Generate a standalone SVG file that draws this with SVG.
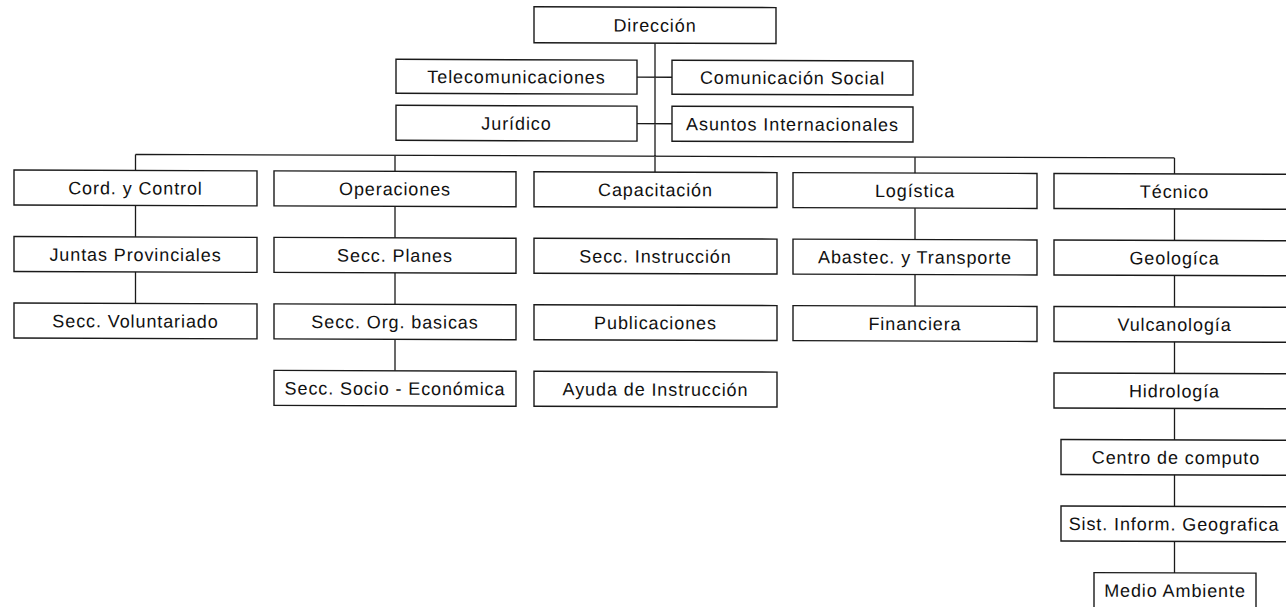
<svg xmlns="http://www.w3.org/2000/svg" width="1286" height="607" viewBox="0 0 1286 607">
<style>
.bx{fill:#fff;stroke:#1a1a1a;stroke-width:1.4}
.ln{fill:none;stroke:#1a1a1a;stroke-width:1.3}
text{font-family:"Liberation Sans",Arial,sans-serif;font-size:18px;letter-spacing:0.9px;fill:#111;text-anchor:middle}
</style>
<rect width="1286" height="607" fill="#fff"/>
<g transform="skewY(0.19)">
<g id="connectors">
<path class="ln" d="M655,41V170 M637,75H672 M637,121.5H672 M135.5,154H1174.5 M135.5,154V303 M395,154V369.5 M915,154V303 M1174.5,154V569"/>
</g>
<g id="n-direccion"><rect class="bx" x="534" y="5" width="242" height="36"/><text x="655" y="29.5">Dirección</text></g>
<g id="n-telecom"><rect class="bx" x="396" y="58" width="241" height="34"/><text x="516.5" y="81.5">Telecomunicaciones</text></g>
<g id="n-comsocial"><rect class="bx" x="672" y="58" width="241" height="34"/><text x="792.5" y="81.5">Comunicación Social</text></g>
<g id="n-juridico"><rect class="bx" x="396" y="104" width="241" height="35"/><text x="516.5" y="128">Jurídico</text></g>
<g id="n-asuntos"><rect class="bx" x="672" y="104" width="241" height="35"/><text x="792.5" y="128">Asuntos Internacionales</text></g>

<g id="n-cord"><rect class="bx" x="14" y="170" width="243" height="35"/><text x="135.5" y="194">Cord. y Control</text></g>
<g id="n-juntas"><rect class="bx" x="14" y="236.5" width="243" height="35"/><text x="135.5" y="260.5">Juntas Provinciales</text></g>
<g id="n-voluntariado"><rect class="bx" x="14" y="303" width="243" height="35"/><text x="135.5" y="327">Secc. Voluntariado</text></g>

<g id="n-operaciones"><rect class="bx" x="274" y="170" width="242" height="35"/><text x="395" y="194">Operaciones</text></g>
<g id="n-planes"><rect class="bx" x="274" y="236.5" width="242" height="35"/><text x="395" y="260.5">Secc. Planes</text></g>
<g id="n-orgbasicas"><rect class="bx" x="274" y="303" width="242" height="35"/><text x="395" y="327">Secc. Org. basicas</text></g>
<g id="n-socioeco"><rect class="bx" x="274" y="369.5" width="242" height="35"/><text x="395" y="393.5">Secc. Socio - Económica</text></g>

<g id="n-capacitacion"><rect class="bx" x="534" y="170" width="243" height="35"/><text x="655.5" y="194">Capacitación</text></g>
<g id="n-instruccion"><rect class="bx" x="534" y="236.5" width="243" height="35"/><text x="655.5" y="260.5">Secc. Instrucción</text></g>
<g id="n-publicaciones"><rect class="bx" x="534" y="303" width="243" height="35"/><text x="655.5" y="327">Publicaciones</text></g>
<g id="n-ayuda"><rect class="bx" x="534" y="369.5" width="243" height="35"/><text x="655.5" y="393.5">Ayuda de Instrucción</text></g>

<g id="n-logistica"><rect class="bx" x="793" y="170" width="244" height="35"/><text x="915" y="194">Logística</text></g>
<g id="n-abastec"><rect class="bx" x="793" y="236.5" width="244" height="35"/><text x="915" y="260.5">Abastec. y Transporte</text></g>
<g id="n-financiera"><rect class="bx" x="793" y="303" width="244" height="35"/><text x="915" y="327">Financiera</text></g>

<g id="n-tecnico"><rect class="bx" x="1054" y="170" width="241" height="35"/><text x="1174.5" y="194">Técnico</text></g>
<g id="n-geologica"><rect class="bx" x="1054" y="236.5" width="241" height="35"/><text x="1174.5" y="260.5">Geologíca</text></g>
<g id="n-vulcanologia"><rect class="bx" x="1054" y="303" width="241" height="35"/><text x="1174.5" y="327">Vulcanología</text></g>
<g id="n-hidrologia"><rect class="bx" x="1054" y="369.5" width="241" height="35"/><text x="1174.5" y="393.5">Hidrología</text></g>
<g id="n-centro"><rect class="bx" x="1061" y="436" width="234" height="35"/><text x="1176" y="460">Centro de computo</text></g>
<g id="n-sig"><rect class="bx" x="1061" y="502.5" width="234" height="35"/><text x="1174" y="526.5">Sist. Inform. Geografica</text></g>
<g id="n-medio"><rect class="bx" x="1094" y="569" width="162" height="40"/><text x="1175" y="593">Medio Ambiente</text></g>
</g>
</svg>
